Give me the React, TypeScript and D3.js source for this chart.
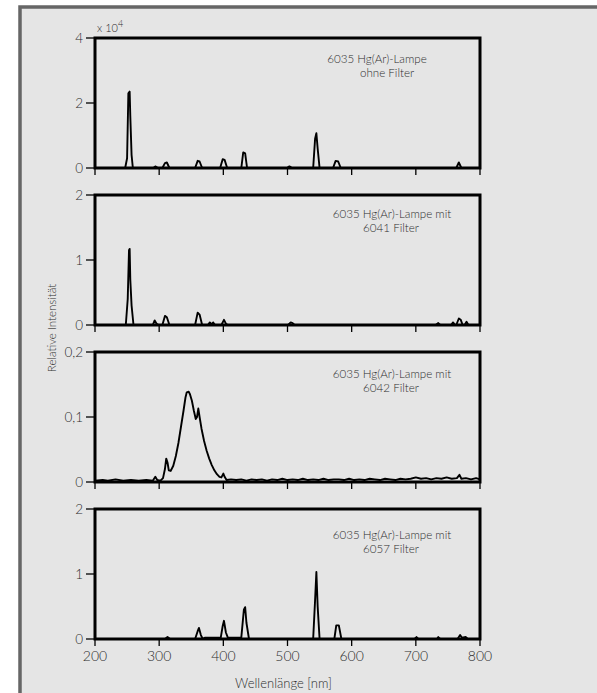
import React from "react";
import * as d3 from "d3";

// wavelength ticks (nm)
const wavelengthTicks = [200, 300, 400, 500, 600, 700, 800];

const panelLabels = [
  ["6035 Hg(Ar)-Lampe", "ohne Filter"],
  ["6035 Hg(Ar)-Lampe mit", "6041 Filter"],
  ["6035 Hg(Ar)-Lampe mit", "6042 Filter"],
  ["6035 Hg(Ar)-Lampe mit", "6057 Filter"],
];

const yMaxes = [4, 2, 0.2, 2];
const yTicks = [
  [0, 2, 4],
  [0, 1, 2],
  [0, 0.1, 0.2],
  [0, 1, 2],
];
const yTickLabels = [
  ["0", "2", "4"],
  ["0", "1", "2"],
  ["0", "0,1", "0,2"],
  ["0", "1", "2"],
];

// [wavelength nm, intensity]
const spectrumOhneFilter: [number, number][] = [
  [200, 0], [247, 0], [250, 0.3], [252, 2.3], [254, 2.35], [255, 1.6], [257, 0.4], [259, 0],
  [291, 0], [294, 0.05], [298, 0],
  [305, 0], [309, 0.15], [312, 0.17], [316, 0],
  [356, 0], [360, 0.22], [363, 0.2], [367, 0],
  [395, 0], [399, 0.27], [402, 0.25], [406, 0],
  [428, 0], [431, 0.48], [434, 0.45], [437, 0],
  [499, 0], [503, 0.05], [507, 0],
  [540, 0], [543, 0.9], [545, 1.07], [547, 0.6], [550, 0],
  [571, 0], [575, 0.22], [579, 0.2], [583, 0],
  [763, 0], [767, 0.17], [771, 0], [800, 0],
];

const spectrum6041: [number, number][] = [
  [200, 0], [248, 0], [251, 0.4], [253, 1.15], [254, 1.17], [255, 0.7], [257, 0.3], [260, 0],
  [290, 0], [293, 0.07], [296, 0.02], [299, 0],
  [305, 0], [309, 0.14], [312, 0.12], [316, 0],
  [356, 0], [360, 0.19], [363, 0.16], [367, 0],
  [376, 0], [379, 0.04], [382, 0.01], [384, 0.04], [387, 0],
  [397, 0], [401, 0.08], [404, 0.02], [407, 0],
  [501, 0], [505, 0.04], [508, 0.03], [511, 0],
  [731, 0], [735, 0.03], [738, 0],
  [755, 0], [758, 0.04], [761, 0],
  [763, 0], [767, 0.1], [770, 0.08], [773, 0],
  [776, 0], [779, 0.05], [782, 0], [800, 0],
];

const spectrum6042: [number, number][] = [
  [200, 0.002], [212, 0.003], [220, 0.002], [232, 0.004], [244, 0.002], [256, 0.003],
  [268, 0.002], [280, 0.003], [290, 0.002], [294, 0.008], [297, 0.003], [302, 0.002],
  [306, 0.006], [309, 0.02], [311, 0.036], [313, 0.03], [315, 0.018], [318, 0.017],
  [322, 0.025], [326, 0.04], [330, 0.06], [334, 0.085], [338, 0.11], [341, 0.13],
  [343, 0.138], [346, 0.139], [348, 0.135], [351, 0.125], [354, 0.11], [357, 0.097],
  [359, 0.1], [361, 0.113], [363, 0.1], [366, 0.082], [370, 0.063], [374, 0.048],
  [378, 0.036], [382, 0.026], [386, 0.018], [390, 0.012], [394, 0.008], [397, 0.007],
  [400, 0.013], [402, 0.008], [405, 0.003], [412, 0.004], [420, 0.003], [428, 0.004],
  [436, 0.002], [444, 0.004], [452, 0.003], [460, 0.004], [468, 0.002], [476, 0.004],
  [484, 0.003], [492, 0.005], [500, 0.003], [508, 0.004], [516, 0.003], [524, 0.005],
  [532, 0.003], [540, 0.004], [548, 0.003], [556, 0.005], [564, 0.003], [572, 0.004],
  [580, 0.004], [588, 0.003], [596, 0.005], [604, 0.003], [612, 0.004], [620, 0.003],
  [628, 0.005], [636, 0.004], [644, 0.003], [652, 0.005], [660, 0.004], [668, 0.003],
  [676, 0.005], [684, 0.004], [692, 0.005], [700, 0.007], [708, 0.005], [716, 0.006],
  [724, 0.004], [732, 0.006], [740, 0.005], [748, 0.007], [756, 0.005], [764, 0.006],
  [768, 0.011], [771, 0.005], [778, 0.006], [786, 0.004], [794, 0.006], [800, 0.004],
];

const spectrum6057: [number, number][] = [
  [200, 0], [309, 0], [313, 0.03], [317, 0],
  [356, 0], [360, 0.12], [362, 0.17], [365, 0.06], [368, 0], [371, 0.02],
  [396, 0.02], [399, 0.2], [401, 0.28], [404, 0.1], [407, 0.02],
  [428, 0.02], [432, 0.45], [434, 0.49], [436, 0.25], [440, 0],
  [540, 0], [543, 0.6], [545, 1.03], [547, 0.5], [550, 0],
  [573, 0], [576, 0.21], [580, 0.21], [584, 0],
  [698, 0], [701, 0.03], [704, 0],
  [733, 0], [735, 0.03], [738, 0],
  [765, 0], [769, 0.06], [772, 0.02], [778, 0.03], [781, 0], [800, 0],
];

const spectra = [spectrumOhneFilter, spectrum6041, spectrum6042, spectrum6057];

// layout
const W = 597;
const H = 693;
const plotLeft = 95;
const plotRight = 480;
const panelTops = [38, 195, 352, 509];
const panelH = 130;
const labelX = [[377, 387], [392, 391], [392, 391], [392, 391]];
const labelDy = [25, 23, 26, 30];

const font = "Lato, 'DejaVu Sans', sans-serif";
const textColor = "#2e2e2e";

const App = () => {
  const x = d3.scaleLinear().domain([200, 800]).range([plotLeft, plotRight]);

  return (
    <svg
      width={W}
      height={H}
      style={{ position: "absolute", left: 0, top: 0, background: "#fff" }}
      fontFamily={font}
      fontWeight={300}
    >
      {/* outer frame */}
      <rect x={20} y={7} width={620} height={720} fill="#e5e5e5" stroke="#666" strokeWidth={3.5} />

      {spectra.map((data, i) => {
        const top = panelTops[i];
        const y = d3.scaleLinear().domain([0, yMaxes[i]]).range([top + panelH, top]);
        const line = d3
          .line<[number, number]>()
          .x((d) => x(d[0]))
          .y((d) => y(d[1]));
        return (
          <g key={i}>
            {/* spectrum */}
            <path d={line(data) || ""} fill="none" stroke="#000" strokeWidth={1.9} strokeLinejoin="round" />
            {/* frame */}
            <rect x={plotLeft} y={top} width={plotRight - plotLeft} height={panelH} fill="none" stroke="#000" strokeWidth={3} />
            {/* y ticks */}
            {yTicks[i].map((t, k) => (
              <g key={k}>
                <line x1={plotLeft - 9} x2={plotLeft} y1={y(t)} y2={y(t)} stroke="#000" strokeWidth={1.3} />
                <text
                  x={plotLeft - 12}
                  y={y(t)}
                  dy="0.36em"
                  textAnchor="end"
                  fontSize={13.5}
                  fill={textColor}
                >
                  {yTickLabels[i][k]}
                </text>
              </g>
            ))}
            {/* x ticks */}
            {wavelengthTicks.map((t) => (
              <line key={t} x1={x(t)} x2={x(t)} y1={top + panelH} y2={top + panelH + 7} stroke="#000" strokeWidth={1.3} />
            ))}
            {/* label */}
            {panelLabels[i].map((s, k) => (
              <text
                key={k}
                x={labelX[i][k]}
                y={top + labelDy[i] + k * 14}
                textAnchor="middle"
                fontSize={11.6}
                fill={textColor}
              >
                {s}
              </text>
            ))}
          </g>
        );
      })}

      {/* x tick labels on bottom panel */}
      {wavelengthTicks.map((t) => (
        <text
          key={t}
          x={x(t)}
          y={panelTops[3] + panelH + 22}
          textAnchor="middle"
          fontSize={14}
          fill={textColor}
        >
          {t}
        </text>
      ))}

      <text x={(plotLeft + plotRight) / 2 - 4} y={688} textAnchor="middle" fontSize={13} fill={textColor}>
        Wellenlänge [nm]
      </text>

      <text
        transform="translate(56,328) rotate(-90)"
        textAnchor="middle"
        fontSize={11.5}
        fill={textColor}
      >
        Relative Intensität
      </text>

      <text x={97} y={32} fontSize={11} fill={textColor}>
        x 10
        <tspan dy={-5} fontSize={9}>4</tspan>
      </text>
    </svg>
  );
};

export default App;
